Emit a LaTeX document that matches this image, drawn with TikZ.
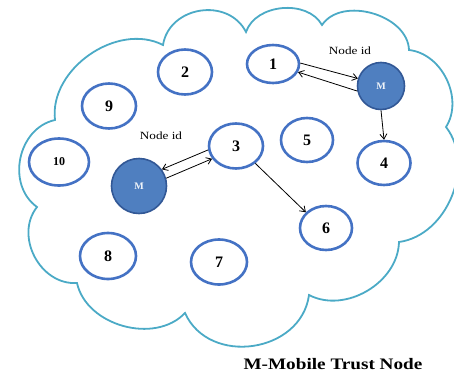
\documentclass[tikz,border=0pt]{standalone}
\usepackage{fontspec}
\setmainfont{Liberation Serif}
\usetikzlibrary{arrows.meta,shapes.geometric}

\definecolor{cloudcol}{RGB}{75,170,198}
\definecolor{nodecol}{RGB}{68,114,196}
\definecolor{mfill}{RGB}{79,127,192}
\definecolor{mborder}{RGB}{50,88,150}

\tikzset{
  cloudline/.style={draw=cloudcol, line width=1.8pt},
  peer/.style={ellipse, draw=nodecol, line width=2.6pt, inner sep=0pt,
               font=\bfseries\fontsize{16}{16}\selectfont},
  mobile/.style={circle, draw=mborder, fill=mfill, line width=1.6pt, inner sep=0pt,
                 text=white!92!mfill, font=\bfseries\fontsize{10}{10}\selectfont},
  link/.style={line width=0.8pt, -{Straight Barb[length=5pt,width=7pt]}},
  tag/.style={font=\fontsize{11}{11}\selectfont}
}
% wide text, stretched horizontally
\newcommand{\widetext}[1]{\scalebox{1.2}[1]{#1}}

\begin{document}
\begin{tikzpicture}[x=1pt,y=-1pt]
\useasboundingbox (0,0) rectangle (454,372);

% cloud outline
\draw[cloudline] (55,120)
  to[bend left=62] (163,45)
  to[bend left=72, looseness=1.2] (246,32)
  to[bend left=66] (322,25)
  to[bend left=72] (409,50)
  to[bend left=58] (446,127)
  to[bend left=60] (399,242)
  to[bend left=58] (309,295)
  to[bend left=74, looseness=1.2] (185,313)
  to[bend left=62] (77,283)
  to[bend left=66, looseness=1.1] (37,207)
  to[bend left=66, looseness=1.1] (55,120) -- cycle;

% ordinary nodes
\node[peer, minimum width=52pt, minimum height=38pt] (n1) at (273,64) {1};
\node[peer, minimum width=54pt, minimum height=45pt] (n2) at (185,72) {2};
\node[peer, minimum width=54pt, minimum height=45pt] (n3) at (236,146) {3};
\node[peer, minimum width=53pt, minimum height=44pt] (n4) at (384,163) {4};
\node[peer, minimum width=52pt, minimum height=44pt] (n5) at (307,140) {5};
\node[peer, minimum width=52pt, minimum height=44pt] (n6) at (326,228) {6};
\node[peer, minimum width=56pt, minimum height=45pt] (n7) at (219,262) {7};
\node[peer, minimum width=56pt, minimum height=46pt] (n8) at (108,256) {8};
\node[peer, minimum width=54pt, minimum height=45pt] (n9) at (109,106) {9};
\node[peer, minimum width=60pt, minimum height=47pt, font=\bfseries\fontsize{12}{12}\selectfont] (n10) at (59,162) {10};

% mobile trust nodes
\node[mobile, minimum size=47pt] (mA) at (381,86) {M};
\node[mobile, minimum size=55pt] (mB) at (139,186) {M};

% labels
\node[tag] (idA) at (350,51) {\widetext{Node id}};
\node[tag] (idB) at (161,136) {\widetext{Node id}};
\node[font=\bfseries\fontsize{16}{16}\selectfont] (cap) at (333,364) {\widetext{M-Mobile Trust Node}};

% connectors
\draw[link] (n1.2) -- (mA.162);
\draw[link] (mA.192) -- (n1.-18);
\draw[link] (mA.south) -- (n4.north);
\draw[link] (n3.188) -- (mB.36);
\draw[link] (mB.16) -- (n3.208);
\draw[link] (n3.-42) -- (n6.142);
\end{tikzpicture}
\end{document}
